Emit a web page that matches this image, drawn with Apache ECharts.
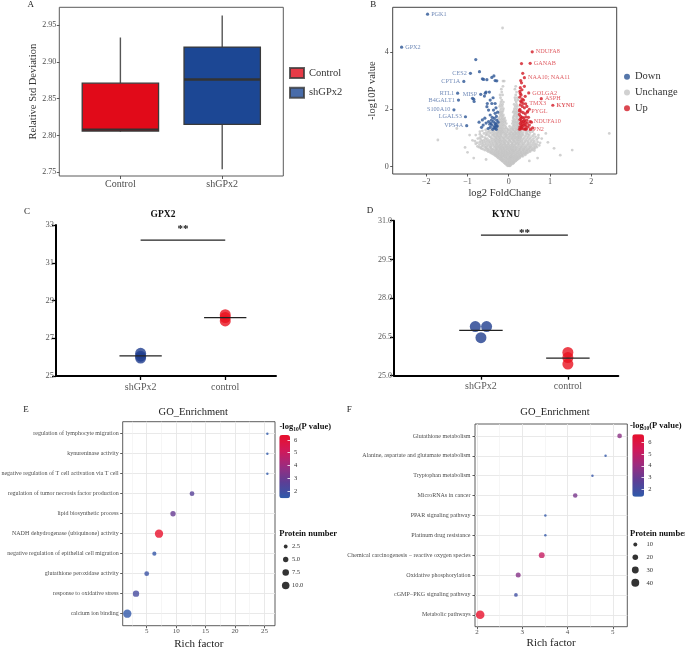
<!DOCTYPE html>
<html><head><meta charset="utf-8">
<script src="https://cdn.jsdelivr.net/npm/echarts@6/dist/echarts.min.js"></script>
<style>html,body{margin:0;padding:0;background:#fff}#c{width:685px;height:648px}</style>
</head><body><div id="c"></div>
<script>
// ---------- Panel A: box plot ----------
const boxGroups = ['Control', 'shGPx2'];
const boxMin = [2.805, 2.754];
const boxQ1 = [2.806, 2.815];
const boxMedian = [2.808, 2.876];
const boxQ3 = [2.871, 2.920];
const boxMax = [2.933, 2.963];
const boxTicks = [2.75, 2.80, 2.85, 2.90, 2.95];
const boxColors = ['#E10A19', '#1C4794'];

// ---------- Panel B: volcano ----------
const downGeneNames = ['PGK1', 'GPX2', 'CES2', 'CPT1A', 'RTL1', 'MISP', 'B4GALT1', 'S100A10', 'LGALS3', 'VPS4A'];
const downGeneFC = [-1.97, -2.60, -0.93, -1.09, -1.24, -0.68, -1.22, -1.33, -1.05, -1.02];
const downGeneLogP = [5.31, 4.16, 3.25, 2.97, 2.56, 2.52, 2.32, 1.98, 1.74, 1.43];
const downOther = [[-0.80,3.73],[-0.71,3.31],[-0.64,3.06],[-0.53,3.03],[-0.41,3.11],[-0.33,3.00],[-0.36,3.16],[-0.61,3.04],[-0.29,2.99],
  [-0.88,2.38],[-0.84,2.27],[-0.59,2.46],[-0.57,2.56],[-0.45,2.32],[-0.41,2.20],[-0.33,2.20],[-0.53,2.09],[-0.49,1.97],[-0.37,1.97],
  [-0.33,1.86],[-0.45,1.80],[-0.58,1.69],[-0.64,1.63],[-0.49,1.57],[-0.37,1.57],[-0.33,1.51],[-0.66,1.37],[-0.45,1.37],[-0.33,1.34],
  [-0.41,1.45],[-0.29,1.62],[-0.30,1.75],[-0.28,1.42],[-0.35,1.68],[-0.42,1.62],[-0.27,1.90],[-0.31,2.05],[-0.38,2.40],[-0.47,2.60],
  [-0.52,2.20],[-0.62,1.45],[-0.55,1.52],[-0.50,1.33],[-0.39,1.30],[-0.30,1.30],[-0.72,1.55],[-0.26,1.55],[-0.34,1.42],[-0.46,1.48],
  [-0.40,1.72],[-0.55,2.60],[-0.85,2.35],[-0.29,1.40],[-0.36,1.36],[-0.43,1.52],[-0.31,1.48]];
const upGeneNames = ['NDUFA8', 'GANAB', 'NAA10; NAA11', 'GOLGA2', 'ASPH', 'KYNU', 'TMX3', 'PYGL', 'NDUFA10', 'RPN2'];
const upGeneFC = [0.57, 0.52, 0.38, 0.485, 0.79, 1.07, 0.41, 0.46, 0.52, 0.40];
const upGeneLogP = [4.00, 3.60, 3.10, 2.57, 2.37, 2.14, 2.19, 1.93, 1.57, 1.30];
const upOther = [[0.31,3.59],[0.34,3.25],[0.31,2.92],[0.28,2.75],[0.27,2.62],[0.30,2.50],[0.27,2.42],[0.33,2.35],[0.29,2.28],[0.36,2.32],
  [0.40,2.45],[0.28,2.15],[0.33,2.10],[0.38,2.05],[0.44,2.10],[0.27,2.00],[0.30,1.92],[0.35,1.88],[0.40,1.84],[0.26,1.82],[0.29,1.75],
  [0.33,1.72],[0.37,1.70],[0.42,1.74],[0.27,1.64],[0.31,1.60],[0.36,1.58],[0.40,1.55],[0.45,1.52],[0.28,1.50],[0.32,1.46],[0.37,1.44],
  [0.42,1.42],[0.27,1.38],[0.31,1.35],[0.35,1.32],[0.40,1.33],[0.46,1.38],[0.50,1.45],[0.26,1.30],[0.30,1.42],[0.34,1.52],[0.38,1.62],
  [0.44,1.62],[0.48,1.72],[0.30,1.55],[0.26,1.95],[0.35,2.20],[0.31,2.25],[0.28,2.55],[0.32,2.68],[0.38,2.80],[0.30,1.68],[0.45,1.90],
  [0.50,2.00],[0.55,1.55],[0.58,1.35],[0.53,1.30],[0.29,3.00],[0.33,1.40],[0.39,1.48],[0.29,1.32],[0.43,1.31]];
const unchangeRows = [
  [0.03, [-0.02, 0.01, 0.03]],
  [0.06, [-0.05, 0.00, 0.05, -0.03]],
  [0.10, [-0.08, -0.04, 0.02, 0.06, 0.09]],
  [0.12, [-0.09, -0.03, 0.00, 0.07, 0.11]],
  [0.14, [-0.11, -0.06, -0.01, 0.04, 0.08, 0.12]],
  [0.18, [-0.14, -0.09, -0.03, 0.03, 0.10, 0.15]],
  [0.20, [-0.16, -0.07, 0.01, 0.06, 0.12, 0.17]],
  [0.23, [-0.18, -0.12, -0.06, 0.00, 0.07, 0.13, 0.19]],
  [0.25, [-0.20, -0.14, -0.02, 0.04, 0.10, 0.16, 0.21]],
  [0.28, [-0.22, -0.16, -0.10, -0.04, 0.01, 0.05, 0.11, 0.17, 0.23]],
  [0.30, [-0.25, -0.18, -0.07, 0.03, 0.08, 0.14, 0.20, 0.26]],
  [0.33, [-0.27, -0.20, -0.14, -0.08, -0.02, 0.03, 0.08, 0.14, 0.20, 0.27]],
  [0.36, [-0.29, -0.22, -0.15, -0.08, 0.04, 0.13, 0.21, 0.28, 0.34]],
  [0.38, [-0.32, -0.25, -0.18, -0.11, -0.05, 0.01, 0.06, 0.10, 0.17, 0.24, 0.31]],
  [0.41, [-0.34, -0.27, -0.19, -0.11, -0.03, 0.08, 0.16, 0.24, 0.32, 0.40]],
  [0.43, [-0.37, -0.30, -0.23, -0.15, -0.07, -0.01, 0.05, 0.12, 0.20, 0.28, 0.36]],
  [0.46, [-0.40, -0.31, -0.23, -0.16, -0.08, 0.00, 0.07, 0.18, 0.26, 0.34, 0.42]],
  [0.48, [-0.43, -0.35, -0.27, -0.19, -0.12, -0.04, 0.03, 0.09, 0.14, 0.22, 0.30, 0.39, 0.45]],
  [0.51, [-0.46, -0.37, -0.28, -0.20, -0.12, -0.04, 0.04, 0.12, 0.20, 0.29, 0.38, 0.48]],
  [0.53, [-0.50, -0.41, -0.32, -0.24, -0.16, -0.08, 0.00, 0.08, 0.16, 0.25, 0.34, 0.43, 0.52]],
  [0.56, [-0.53, -0.43, -0.33, -0.24, -0.16, -0.08, 0.01, 0.09, 0.14, 0.22, 0.32, 0.42, 0.52, 0.62]],
  [0.58, [-0.58, -0.47, -0.37, -0.28, -0.20, -0.12, -0.04, 0.05, 0.11, 0.18, 0.27, 0.37, 0.47, 0.57]],
  [0.61, [-0.62, -0.50, -0.39, -0.29, -0.19, -0.11, -0.02, 0.06, 0.15, 0.25, 0.35, 0.45, 0.57]],
  [0.63, [-0.66, -0.53, -0.42, -0.32, -0.23, -0.15, -0.07, 0.01, 0.09, 0.20, 0.30, 0.40, 0.51, 0.63]],
  [0.66, [-0.68, -0.55, -0.44, -0.30, -0.21, -0.13, -0.05, 0.03, 0.11, 0.18, 0.27, 0.37, 0.49, 0.61]],
  [0.68, [-0.72, -0.58, -0.46, -0.35, -0.26, -0.18, -0.10, -0.02, 0.06, 0.14, 0.22, 0.32, 0.43, 0.55, 0.68]],
  [0.71, [-0.76, -0.65, -0.54, -0.43, -0.32, -0.24, -0.16, -0.07, 0.01, 0.09, 0.17, 0.29, 0.40, 0.52, 0.65]],
  [0.74, [-0.62, -0.50, -0.39, -0.29, -0.21, -0.13, -0.05, 0.04, 0.12, 0.24, 0.35, 0.47, 0.60, 0.74]],
  [0.77, [-0.71, -0.58, -0.46, -0.35, -0.26, -0.18, -0.10, -0.02, 0.07, 0.15, 0.22, 0.31, 0.43, 0.55, 0.68]],
  [0.80, [-0.80, -0.66, -0.54, -0.42, -0.31, -0.22, -0.15, -0.08, 0.00, 0.08, 0.17, 0.26, 0.37, 0.50, 0.64]],
  [0.83, [-0.76, -0.62, -0.49, -0.38, -0.28, -0.19, -0.10, -0.01, 0.10, 0.19, 0.23, 0.33, 0.46, 0.59, 0.76]],
  [0.86, [-0.70, -0.57, -0.45, -0.33, -0.24, -0.12, -0.03, 0.06, 0.15, 0.27, 0.39, 0.53, 0.70]],
  [0.89, [-0.82, -0.65, -0.52, -0.40, -0.30, -0.21, -0.15, -0.06, 0.03, 0.13, 0.22, 0.32, 0.46, 0.62]],
  [0.92, [-0.88, -0.61, -0.48, -0.35, -0.26, -0.18, -0.09, 0.02, 0.11, 0.20, 0.28, 0.41, 0.56]],
  [0.95, [-0.68, -0.56, -0.42, -0.32, -0.23, -0.11, 0.00, 0.09, 0.17, 0.25, 0.35, 0.50, 0.68]],
  [0.98, [-0.75, -0.52, -0.37, -0.28, -0.20, -0.14, -0.05, 0.05, 0.13, 0.22, 0.30, 0.44, 0.60, 0.80]],
  [1.01, [-0.70, -0.58, -0.42, -0.30, -0.22, -0.12, -0.02, 0.07, 0.15, 0.21, 0.27, 0.38, 0.53, 0.72]],
  [1.04, [-0.64, -0.45, -0.33, -0.24, -0.16, -0.08, 0.01, 0.10, 0.18, 0.24, 0.31, 0.47, 0.65]],
  [1.07, [-0.66, -0.48, -0.36, -0.27, -0.19, -0.06, 0.04, 0.13, 0.22, 0.29, 0.41, 0.58]],
  [1.10, [-0.80, -0.55, -0.40, -0.30, -0.22, -0.12, -0.03, 0.07, 0.15, 0.26, 0.35, 0.50, 0.72]],
  [1.13, [-0.70, -0.52, -0.37, -0.28, -0.19, -0.07, 0.02, 0.10, 0.18, 0.24, 0.32, 0.46, 0.62]],
  [1.16, [-0.60, -0.46, -0.34, -0.25, -0.17, -0.09, 0.03, 0.12, 0.20, 0.28, 0.42]],
  [1.19, [-0.55, -0.42, -0.30, -0.22, -0.13, -0.02, 0.08, 0.17, 0.25, 0.35, 0.52]],
  [1.22, [-0.70, -0.50, -0.38, -0.27, -0.20, -0.14, -0.05, 0.06, 0.16, 0.24, 0.30, 0.45, 0.58]],
  [1.25, [-0.64, -0.47, -0.35, -0.25, -0.18, -0.09, 0.02, 0.13, 0.22, 0.29, 0.41, 0.50]],
  [1.28, [-0.56, -0.42, -0.31, -0.23, -0.15, -0.02, 0.09, 0.19, 0.27, 0.37]],
  [1.31, [-0.25, -0.18, -0.10, -0.03, 0.04, 0.11, 0.17, 0.23]],
  [1.35, [-0.24, -0.19, -0.13, -0.06, 0.07, 0.14, 0.20, 0.24]],
  [1.40, [-0.21, -0.15, -0.08, 0.02, 0.10, 0.16, 0.22]],
  [1.45, [-0.23, -0.17, -0.11, 0.13, 0.19, 0.23]],
  [1.50, [-0.25, -0.19, -0.13, -0.06, 0.09, 0.15, 0.21]],
  [1.55, [-0.22, -0.16, -0.10, 0.12, 0.18, 0.22]],
  [1.60, [-0.20, -0.14, -0.08, 0.10, 0.16, 0.23]],
  [1.65, [-0.24, -0.18, -0.12, 0.14, 0.21]],
  [1.70, [-0.23, -0.16, -0.10, 0.11, 0.19]],
  [1.75, [-0.21, -0.15, 0.12, 0.18, 0.23]],
  [1.80, [-0.19, -0.13, 0.14, 0.21]],
  [1.85, [-0.23, -0.17, 0.15, 0.20]],
  [1.90, [-0.22, -0.16, 0.11, 0.17, 0.23]],
  [1.95, [-0.20, -0.14, 0.13, 0.19]],
  [2.02, [-0.19, -0.13, 0.14, 0.19]],
  [2.10, [-0.22, -0.16, 0.16, 0.21]],
  [2.17, [-0.20, -0.15, 0.13, 0.19]],
  [2.25, [-0.19, -0.13, 0.18]],
  [2.32, [-0.17, 0.16, 0.22]],
  [2.40, [-0.20, 0.15, 0.21]],
  [2.50, [-0.21, -0.15, 0.17]],
  [2.60, [-0.17, 0.19]],
  [2.70, [-0.18, 0.15]],
  [2.80, [-0.14, 0.17]],
  [2.98, [-0.14, -0.11]]
];
const unchangeOutliers = [[-1.72,0.93],[-1.06,0.67],[-1.26,1.33],[2.44,1.16],[1.54,0.58],[1.10,0.64],[0.90,1.16],[-0.15,4.83],
  [-0.95,1.10],[-1.00,0.50],[0.95,0.85],[1.25,0.40],[-0.85,0.30],[0.70,0.30],[-0.55,0.25],[0.50,0.20]];
const volcanoXTicks = [-2, -1, 0, 1, 2];
const volcanoYTicks = [0, 2, 4];

// ---------- Panels C, D: dot plots ----------
const dotGroups = ['shGPx2', 'control'];
const gpx2Sh = [26.20, 26.05, 25.95];
const gpx2Ctrl = [28.25, 28.10, 27.92];
const kynuSh = [26.90, 26.90, 26.47];
const kynuShJitter = [-0.065, 0.065, 0];
const kynuCtrl = [25.90, 25.70, 25.45];
const gpx2Ticks = [25, 27, 29, 31, 33];
const kynuTicks = [25.0, 26.5, 28.0, 29.5, 31.0];
const gpx2SigY = 32.2;
const kynuSigY = 30.44;

// ---------- Panels E, F: enrichment bubbles ----------
const goTerms = ['regulation of lymphocyte migration', 'kynureninase activity', 'negative regulation of T cell activation via T cell',
  'regulation of tumor necrosis factor production', 'lipid biosynthetic process', 'NADH dehydrogenase (ubiquinone) activity',
  'negative regulation of epithelial cell migration', 'glutathione peroxidase activity', 'response to oxidative stress', 'calcium ion binding'];
const goRich = [25.5, 25.5, 25.5, 12.7, 9.47, 7.09, 6.3, 5.0, 3.18, 1.7];
const goCount = [1, 1, 1, 4, 5, 12, 3, 4, 7, 12];
const goLogP = [1.45, 1.45, 1.45, 2.6, 2.9, 6.39, 1.6, 1.8, 2.1, 1.5];
const goSizeBreaks = [2.5, 5.0, 7.5, 10.0];
const goXTicks = [5, 10, 15, 20, 25];

const keggTerms = ['Glutathione metabolism', 'Alanine, aspartate and glutamate metabolism', 'Tryptophan metabolism', 'MicroRNAs in cancer',
  'PPAR signaling pathway', 'Platinum drug resistance', 'Chemical carcinogenesis \u2212 reactive oxygen species', 'Oxidative phosphorylation',
  'cGMP\u2212PKG signaling pathway', 'Metabolic pathways'];
const keggRich = [5.15, 4.84, 4.55, 4.17, 3.51, 3.51, 3.43, 2.91, 2.86, 2.07];
const keggCount = [14, 4, 4, 13, 4, 4, 22, 16, 9, 48];
const keggLogP = [3.7, 1.5, 1.6, 3.3, 1.5, 1.5, 5.1, 3.6, 1.9, 6.68];
const keggSizeBreaks = [10, 20, 30, 40];
const keggXTicks = [2, 3, 4, 5];

const pTicks = [2, 3, 4, 5, 6];

// ---------- styling helpers ----------
const F = 'Liberation Serif';
const sizeGO = n => 2.4 * Math.sqrt(n);
const sizeKEGG = n => 1.25 * Math.sqrt(n);
const minus = v => (v < 0 ? '\u2212' + Math.abs(v) : String(v));
const colorStops = ['#2E5AAA', '#5B3F96', '#9A2C80', '#D0195A', '#E8102C'];

function mean(a) { return a.reduce((s, v) => s + v, 0) / a.length; }

function hiddenAxis(grid) {
  return { gridIndex: grid, type: 'value', show: false, min: 0, max: 2, axisLine: { onZero: false } };
}

function renderBox(params, api) {
  const x = api.value(0), hw = 0.375;
  const lo = api.coord([x, api.value(1)]);
  const q1 = api.coord([x - hw, api.value(2)]);
  const md = api.coord([x, api.value(3)]);
  const q3 = api.coord([x + hw, api.value(4)]);
  const hi = api.coord([x, api.value(5)]);
  const stroke = '#3a3a3a';
  return { type: 'group', children: [
    { type: 'line', shape: { x1: lo[0], y1: lo[1], x2: lo[0], y2: q1[1] }, style: { stroke: '#555', lineWidth: 1.4 } },
    { type: 'line', shape: { x1: hi[0], y1: hi[1], x2: hi[0], y2: q3[1] }, style: { stroke: '#555', lineWidth: 1.4 } },
    { type: 'rect', shape: { x: q1[0], y: q3[1], width: q3[0] - q1[0], height: q1[1] - q3[1] },
      style: { fill: boxColors[params.dataIndex], stroke: stroke, lineWidth: 1.3 } },
    { type: 'line', shape: { x1: q1[0], y1: md[1], x2: q3[0], y2: md[1] }, style: { stroke: '#333', lineWidth: 2.4 } }
  ] };
}
function renderMean(params, api) {
  const x = api.value(0), m = api.value(1);
  const a = api.coord([x - 0.25, m]), b = api.coord([x + 0.25, m]);
  return { type: 'line', shape: { x1: a[0], y1: a[1], x2: b[0], y2: b[1] }, style: { stroke: '#222', lineWidth: 1.3 } };
}
function makeSig(textDy) {
  return function (params, api) {
    const a = api.coord([api.value(0), api.value(2)]), b = api.coord([api.value(1), api.value(2)]);
    return { type: 'group', children: [
      { type: 'line', shape: { x1: a[0], y1: a[1], x2: b[0], y2: b[1] }, style: { stroke: '#222', lineWidth: 1.3 } },
      { type: 'text', x: (a[0] + b[0]) / 2, y: a[1] - textDy,
        style: { text: '**', fill: '#111', fontSize: 11, fontWeight: 'bold', fontFamily: F, align: 'center', verticalAlign: 'middle' } }
    ] };
  };
}

const tickLabel = { fontFamily: F, color: '#4d4d4d', fontSize: 8 };

// ---------- grids ----------
const G = { outerBoundsMode: 'none', containLabel: false };
const grids = [
  { left: 59.3, top: 7.3, width: 224, height: 168.7, show: true, borderColor: '#5a5a5a', borderWidth: 1 },   // 0 A
  { left: 392.7, top: 7.3, width: 224, height: 166.7, show: true, borderColor: '#444', borderWidth: 1 },     // 1 B
  { left: 56, top: 225, width: 220, height: 151 },                                                         // 2 C
  { left: 394, top: 220.7, width: 224.3, height: 155 },                                                    // 3 D
  { left: 122.7, top: 421.7, width: 152.3, height: 204, show: true, borderColor: '#333', borderWidth: 0.8 }, // 4 E
  { left: 475, top: 424, width: 152.3, height: 202.7, show: true, borderColor: '#333', borderWidth: 0.8 },   // 5 F
  { left: 279.3, top: 435, width: 10.7, height: 63.3 },                                                    // 6 E colorbar
  { left: 632.3, top: 434.3, width: 11.7, height: 62.4 },                                                  // 7 F colorbar
  { left: 281, top: 540, width: 9.4, height: 52 },                                                         // 8 E size key
  { left: 631, top: 538, width: 8.6, height: 51.2 }                                                        // 9 F size key
].map(g => Object.assign({}, G, g));

function frameTicks(vals, len) {
  return { show: true, length: len || 2.5, customValues: vals, lineStyle: { color: '#333', width: 0.8 } };
}
const noLine = { show: false, onZero: false };

const xAxes = [
  { gridIndex: 0, type: 'value', min: 0.4, max: 2.6, axisLine: noLine, splitLine: { show: false },
    axisTick: frameTicks([1, 2], 3),
    axisLabel: { customValues: [1, 2], formatter: v => boxGroups[Math.round(v) - 1], fontFamily: F, fontSize: 10, color: '#4d4d4d', margin: 3.5 } },
  { gridIndex: 1, type: 'value', min: -2.816, max: 2.62, axisLine: noLine, splitLine: { show: false },
    axisTick: frameTicks(volcanoXTicks),
    axisLabel: Object.assign({ customValues: volcanoXTicks, formatter: minus, margin: 4 }, tickLabel),
    name: 'log2 FoldChange', nameLocation: 'middle', nameGap: 13.5, nameTextStyle: { fontFamily: F, fontSize: 10.5, color: '#333' } },
  { gridIndex: 2, type: 'value', min: 0, max: 2.6, splitLine: { show: false },
    axisLine: { onZero: false, lineStyle: { color: '#000', width: 2 } },
    axisTick: { customValues: [1, 2], length: 4, lineStyle: { color: '#000', width: 1.3 } },
    axisLabel: { customValues: [1, 2], formatter: v => dotGroups[Math.round(v) - 1], fontFamily: F, fontSize: 10, color: '#595959', margin: 6 } },
  { gridIndex: 3, type: 'value', min: 0, max: 2.58, splitLine: { show: false },
    axisLine: { onZero: false, lineStyle: { color: '#000', width: 2 } },
    axisTick: { customValues: [1, 2], length: 4, lineStyle: { color: '#000', width: 1.3 } },
    axisLabel: { customValues: [1, 2], formatter: v => dotGroups[Math.round(v) - 1], fontFamily: F, fontSize: 10, color: '#595959', margin: 6 } },
  { gridIndex: 4, type: 'value', min: 0.92, max: 26.8, axisLine: noLine,
    splitLine: { show: true, lineStyle: { color: '#E6E6E6', width: 0.9 } },
    axisTick: frameTicks(goXTicks),
    axisLabel: { customValues: goXTicks, fontFamily: F, fontSize: 7, color: '#4d4d4d', margin: 2 },
    name: 'Rich factor', nameLocation: 'middle', nameGap: 13, nameTextStyle: { fontFamily: F, fontSize: 11, color: '#222' } },
  { gridIndex: 4, type: 'value', min: 0.92, max: 26.8, axisLine: noLine, axisLabel: { show: false },
    axisTick: { show: false, customValues: [2.5, 7.5, 12.5, 17.5, 22.5] },
    splitLine: { show: true, lineStyle: { color: '#F0F0F0', width: 0.6 } } },
  { gridIndex: 5, type: 'value', min: 1.956, max: 5.32, axisLine: noLine,
    splitLine: { show: true, lineStyle: { color: '#E6E6E6', width: 0.9 } },
    axisTick: frameTicks(keggXTicks),
    axisLabel: { customValues: keggXTicks, fontFamily: F, fontSize: 7, color: '#4d4d4d', margin: 2 },
    name: 'Rich factor', nameLocation: 'middle', nameGap: 11, nameTextStyle: { fontFamily: F, fontSize: 11, color: '#222' } },
  { gridIndex: 5, type: 'value', min: 1.956, max: 5.32, axisLine: noLine, axisLabel: { show: false },
    axisTick: { show: false, customValues: [2.5, 3.5, 4.5] },
    splitLine: { show: true, lineStyle: { color: '#F0F0F0', width: 0.6 } } },
  hiddenAxis(6), hiddenAxis(7), hiddenAxis(8), hiddenAxis(9)
];

const yAxes = [
  { gridIndex: 0, type: 'value', min: 2.745, max: 2.974, axisLine: noLine, splitLine: { show: false },
    axisTick: frameTicks(boxTicks),
    axisLabel: Object.assign({ customValues: boxTicks, formatter: v => v.toFixed(2), margin: 3 }, tickLabel),
    name: 'Relative Std Deviation', nameLocation: 'middle', nameGap: 21, nameTextStyle: { fontFamily: F, fontSize: 10.5, color: '#333' } },
  { gridIndex: 1, type: 'value', min: -0.254, max: 5.55, axisLine: noLine, splitLine: { show: false },
    axisTick: frameTicks(volcanoYTicks),
    axisLabel: Object.assign({ customValues: volcanoYTicks, margin: 4 }, tickLabel),
    name: '-log10P value', nameLocation: 'middle', nameGap: 14.5, nameTextStyle: { fontFamily: F, fontSize: 10.5, color: '#333' } },
  { gridIndex: 2, type: 'value', min: 25, max: 33, interval: 2, splitLine: { show: false },
    axisLine: { show: true, onZero: false, lineStyle: { color: '#000', width: 2 } },
    axisTick: { show: true, length: 4, lineStyle: { color: '#000', width: 1.3 } },
    axisLabel: { fontFamily: F, fontSize: 8.5, color: '#595959', margin: 2 } },
  { gridIndex: 3, type: 'value', min: 25, max: 31, interval: 1.5, splitLine: { show: false },
    axisLine: { show: true, onZero: false, lineStyle: { color: '#000', width: 2 } },
    axisTick: { show: true, length: 4, lineStyle: { color: '#000', width: 1.3 } },
    axisLabel: { fontFamily: F, fontSize: 8, color: '#595959', margin: 2, formatter: v => v.toFixed(1) } },
  { gridIndex: 4, type: 'value', inverse: true, min: 0.4, max: 10.6, axisLine: noLine,
    splitLine: { show: true, lineStyle: { color: '#E6E6E6', width: 0.9 } },
    axisTick: frameTicks([1, 2, 3, 4, 5, 6, 7, 8, 9, 10]),
    axisLabel: { customValues: [1, 2, 3, 4, 5, 6, 7, 8, 9, 10], formatter: v => goTerms[Math.round(v) - 1],
      fontFamily: F, fontSize: 6, color: '#4d4d4d', margin: 4 } },
  { gridIndex: 5, type: 'value', inverse: true, min: 0.4, max: 10.6, axisLine: noLine,
    splitLine: { show: true, lineStyle: { color: '#E6E6E6', width: 0.9 } },
    axisTick: frameTicks([1, 2, 3, 4, 5, 6, 7, 8, 9, 10]),
    axisLabel: { customValues: [1, 2, 3, 4, 5, 6, 7, 8, 9, 10], formatter: v => keggTerms[Math.round(v) - 1],
      fontFamily: F, fontSize: 6, color: '#4d4d4d', margin: 4.5 } },
  { gridIndex: 6, type: 'value', position: 'right', min: 1.43, max: 6.39, z: 10, axisLine: noLine, splitLine: { show: false },
    axisTick: { inside: true, length: 2.5, customValues: pTicks, lineStyle: { color: '#fff', width: 0.8 } },
    axisLabel: { customValues: pTicks, fontFamily: F, fontSize: 6.5, color: '#333', margin: 4 } },
  { gridIndex: 7, type: 'value', position: 'right', min: 1.37, max: 6.68, z: 10, axisLine: noLine, splitLine: { show: false },
    axisTick: { inside: true, length: 2.5, customValues: pTicks, lineStyle: { color: '#fff', width: 0.8 } },
    axisLabel: { customValues: pTicks, fontFamily: F, fontSize: 6.5, color: '#333', margin: 4.3 } },
  { gridIndex: 8, type: 'value', position: 'right', inverse: true, min: 0.5, max: 4.5, axisLine: noLine, splitLine: { show: false },
    axisTick: { show: false, customValues: [1, 2, 3, 4] },
    axisLabel: { customValues: [1, 2, 3, 4], formatter: v => goSizeBreaks[Math.round(v) - 1].toFixed(1), fontFamily: F, fontSize: 6.5, color: '#333', margin: 1.5 } },
  { gridIndex: 9, type: 'value', position: 'right', inverse: true, min: 0.5, max: 4.5, axisLine: noLine, splitLine: { show: false },
    axisTick: { show: false, customValues: [1, 2, 3, 4] },
    axisLabel: { customValues: [1, 2, 3, 4], formatter: v => String(keggSizeBreaks[Math.round(v) - 1]), fontFamily: F, fontSize: 6.5, color: '#333', margin: 7 } }
];

// ---------- series ----------
const blueDot = '#2C5595', blueText = '#4B6CA5', redDot = '#D21A26', redText = '#D8343C';
const downData = downGeneNames.map((n, i) => ({
  name: n, value: [downGeneFC[i], downGeneLogP[i]],
  label: { show: true, position: downGeneFC[i] < -1.5 ? 'right' : 'left' }
})).concat(downOther.map(p => ({ value: p })));
const upData = upGeneNames.map((n, i) => ({
  name: n, value: [upGeneFC[i], upGeneLogP[i]],
  label: { show: true, position: 'right', fontWeight: n === 'KYNU' ? 'bold' : 'normal' }
})).concat(upOther.map(p => ({ value: p })));
const unchangeData = unchangeRows.flatMap(([y, xs]) => xs.map(x => [x, y])).concat(unchangeOutliers);

const series = [
  { type: 'custom', xAxisIndex: 0, yAxisIndex: 0, renderItem: renderBox, encode: { x: 0, y: [1, 2, 3, 4, 5] },
    data: boxGroups.map((g, i) => [i + 1, boxMin[i], boxQ1[i], boxMedian[i], boxQ3[i], boxMax[i]]) },
  { type: 'scatter', name: 'Control', xAxisIndex: 0, yAxisIndex: 0, data: [], itemStyle: { color: boxColors[0], borderColor: '#3a3a3a', borderWidth: 1 } },
  { type: 'scatter', name: 'shGPx2', xAxisIndex: 0, yAxisIndex: 0, data: [], itemStyle: { color: boxColors[1], borderColor: '#3a3a3a', borderWidth: 1 } },

  { type: 'scatter', name: 'Unchange', xAxisIndex: 1, yAxisIndex: 1, symbolSize: 2.8, data: unchangeData, itemStyle: { color: '#C6C6C6' }, z: 2 },
  { type: 'scatter', name: 'Down', xAxisIndex: 1, yAxisIndex: 1, symbolSize: 3.2, data: downData, itemStyle: { color: blueDot }, z: 3,
    label: { formatter: '{b}', fontFamily: F, fontSize: 6.2, color: blueText, distance: 2 } },
  { type: 'scatter', name: 'Up', xAxisIndex: 1, yAxisIndex: 1, symbolSize: 3.2, data: upData, itemStyle: { color: redDot }, z: 3,
    label: { formatter: '{b}', fontFamily: F, fontSize: 6.2, color: redText, distance: 2 } },

  { type: 'scatter', name: 'GPX2 shGPx2', xAxisIndex: 2, yAxisIndex: 2, symbolSize: 11, itemStyle: { color: '#1F3D8F' }, data: gpx2Sh.map(v => [1, v]) },
  { type: 'scatter', name: 'GPX2 control', xAxisIndex: 2, yAxisIndex: 2, symbolSize: 11, itemStyle: { color: '#E8111F' }, data: gpx2Ctrl.map(v => [2, v]) },
  { type: 'custom', xAxisIndex: 2, yAxisIndex: 2, renderItem: renderMean, z: 5, data: [[1, mean(gpx2Sh)], [2, mean(gpx2Ctrl)]] },
  { type: 'custom', xAxisIndex: 2, yAxisIndex: 2, renderItem: makeSig(10.6), encode: { x: [0, 1], y: 2 }, data: [[1, 2, gpx2SigY]] },

  { type: 'scatter', name: 'KYNU shGPx2', xAxisIndex: 3, yAxisIndex: 3, symbolSize: 11, itemStyle: { color: '#1F3D8F' }, data: kynuSh.map((v, i) => [1 + kynuShJitter[i], v]) },
  { type: 'scatter', name: 'KYNU control', xAxisIndex: 3, yAxisIndex: 3, symbolSize: 11, itemStyle: { color: '#E8111F' }, data: kynuCtrl.map(v => [2, v]) },
  { type: 'custom', xAxisIndex: 3, yAxisIndex: 3, renderItem: renderMean, z: 5, data: [[1, mean(kynuSh)], [2, mean(kynuCtrl)]] },
  { type: 'custom', xAxisIndex: 3, yAxisIndex: 3, renderItem: makeSig(2), encode: { x: [0, 1], y: 2 }, data: [[1, 2, kynuSigY]] },

  { type: 'scatter', name: 'GO', xAxisIndex: 4, yAxisIndex: 4, z: 4, symbolSize: v => sizeGO(v[2]),
    data: goTerms.map((t, i) => [goRich[i], i + 1, goCount[i], goLogP[i]]) },
  { type: 'scatter', name: 'KEGG', xAxisIndex: 6, yAxisIndex: 5, z: 4, symbolSize: v => sizeKEGG(v[2]),
    data: keggTerms.map((t, i) => [keggRich[i], i + 1, keggCount[i], keggLogP[i]]) },
  { type: 'scatter', name: 'GO size', xAxisIndex: 10, yAxisIndex: 8, itemStyle: { color: '#000' }, symbolSize: v => sizeGO(v[2]),
    data: goSizeBreaks.map((b, i) => [1, i + 1, b]) },
  { type: 'scatter', name: 'KEGG size', xAxisIndex: 11, yAxisIndex: 9, itemStyle: { color: '#000' }, symbolSize: v => sizeKEGG(v[2]),
    data: keggSizeBreaks.map((b, i) => [1, i + 1, b]) }
];

// ---------- text ----------
function txt(x, y, text, size, extra) {
  return { type: 'text', x: x, y: y, silent: true,
    style: Object.assign({ text: text, fontFamily: F, fontSize: size, fill: '#222', align: 'center', verticalAlign: 'middle' }, extra || {}) };
}
const pRich = { a: { fontFamily: F, fontSize: 8.5, fontWeight: 'bold', fill: '#111' },
  b: { fontFamily: F, fontSize: 5.5, fontWeight: 'bold', fill: '#111', padding: [5, 0, 0, 0] } };
const graphics = [
  txt(30.7, 5, 'A', 9), txt(373.3, 5, 'B', 9), txt(27, 211.7, 'C', 9), txt(370, 210.7, 'D', 9), txt(26, 410, 'E', 9), txt(349.3, 410, 'F', 9),
  txt(163, 215, 'GPX2', 9.5, { fontWeight: 'bold', fill: '#111' }),
  txt(506, 215, 'KYNU', 9.5, { fontWeight: 'bold', fill: '#111' }),
  txt(193.3, 412.3, 'GO_Enrichment', 10.5),
  txt(555, 412.3, 'GO_Enrichment', 10.5),
  { type: 'text', x: 279.5, y: 427, silent: true, style: { text: '{a|-log}{b|10}{a|(P value)}', rich: pRich, align: 'left', verticalAlign: 'middle' } },
  { type: 'text', x: 630, y: 426, silent: true, style: { text: '{a|-log}{b|10}{a|(P value)}', rich: pRich, align: 'left', verticalAlign: 'middle' } },
  txt(279.3, 533.3, 'Protein number', 8.5, { fontWeight: 'bold', fill: '#111', align: 'left' }),
  txt(630, 533.3, 'Protein number', 8.5, { fontWeight: 'bold', fill: '#111', align: 'left' })
];

const option = {
  animation: false,
  backgroundColor: '#fff',
  textStyle: { fontFamily: F },
  grid: grids,
  xAxis: xAxes,
  yAxis: yAxes,
  legend: [
    { data: ['Control', 'shGPx2'], orient: 'vertical', left: 289, top: 67, padding: 0, icon: 'rect', itemWidth: 14, itemHeight: 10, itemGap: 7.7,
      selectedMode: false, textStyle: { fontFamily: F, fontSize: 10.5, color: '#333', lineHeight: 12 } },
    { data: ['Down', 'Unchange', 'Up'], orient: 'vertical', left: 624, top: 70.7, padding: 0, icon: 'circle', itemWidth: 6, itemHeight: 6, itemGap: 3.8,
      selectedMode: false, textStyle: { fontFamily: F, fontSize: 10.5, color: '#333', lineHeight: 12 } }
  ],
  visualMap: [
    { type: 'continuous', seriesIndex: 14, dimension: 3, min: 1.43, max: 6.39, calculable: false, hoverLink: false, padding: 0,
      left: 279.3, top: 435, itemWidth: 10.7, itemHeight: 63.3, inRange: { color: colorStops }, text: null },
    { type: 'continuous', seriesIndex: 15, dimension: 3, min: 1.37, max: 6.68, calculable: false, hoverLink: false, padding: 0,
      left: 632.3, top: 434.3, itemWidth: 11.7, itemHeight: 62.4, inRange: { color: colorStops }, text: null }
  ],
  graphic: graphics,
  series: series
};

const chart = echarts.init(document.getElementById('c'));
chart.setOption(option);
</script>
</body></html>
